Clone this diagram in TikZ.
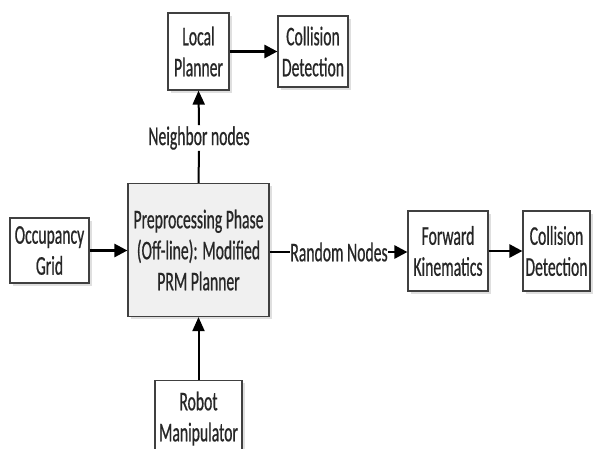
\documentclass[tikz,border=0pt]{standalone}
\usepackage{fontspec}
\setmainfont{Carlito}[FakeStretch=0.58,FakeBold=0.6]
\usetikzlibrary{arrows.meta,shadows}
\begin{document}
\begin{tikzpicture}[x=1pt,y=-1pt,
  box/.style={draw=black!75, line width=1.2pt, fill=white, align=center,
    inner sep=0pt, text=black!85, font=\fontsize{27}{31}\selectfont,
    drop shadow={opacity=0.25, shadow xshift=2.5pt, shadow yshift=-2.5pt}},
  lbl/.style={inner sep=1pt, text=black!85, font=\fontsize{27}{31}\selectfont},
  arr/.style={line width=2.6pt, -{Triangle[length=13pt,width=13pt]}},
  varr/.style={line width=2pt, -{Triangle[length=14pt,width=12pt]}},
  plain/.style={line width=2pt}]
\useasboundingbox (0,0) rectangle (593,448);
\clip (0,0) rectangle (593,448);
\node[box, minimum width=61pt, minimum height=77pt] (lp) at (198.5,51.5) {Local\\Planner};
\node[box, minimum width=70pt, minimum height=71pt] (cd1) at (313,51.5) {Collision\\Detection};
\node[box, fill=black!6, minimum width=141pt, minimum height=133pt] (pp) at (198.5,250) {Preprocessing Phase\\(Off-line): Modified\\PRM Planner};
\node[box, minimum width=79pt, minimum height=65pt] (og) at (49.5,250.5) {Occupancy\\Grid};
\node[box, minimum width=80pt, minimum height=80pt] (fk) at (448,251) {Forward\\Kinematics};
\node[box, minimum width=67pt, minimum height=80pt] (cd2) at (556.5,251) {Collision\\Detection};
\node[box, minimum width=87pt, minimum height=76pt, anchor=north] (rm) at (198.5,380) {Robot\\Manipulator};
\node[lbl] (nb) at (199,138) {Neighbor nodes};
\node[lbl, inner sep=0pt] (rn) at (339,252) {Random Nodes};
\draw[arr] (lp.east) -- (cd1.west);
\draw[plain] (pp.north) -- (nb.south);
\draw[varr] (nb.north) -- (lp.south);
\draw[arr] (og.east) -- (og.east -| pp.west);
\draw[plain] (rn.west -| pp.east) -- (rn.west);
\draw[arr] (rn.east) -- (rn.east -| fk.west);
\draw[arr] (fk.east) -- (cd2.west);
\draw[varr] (rm.north) -- (pp.south);
\end{tikzpicture}
\end{document}
